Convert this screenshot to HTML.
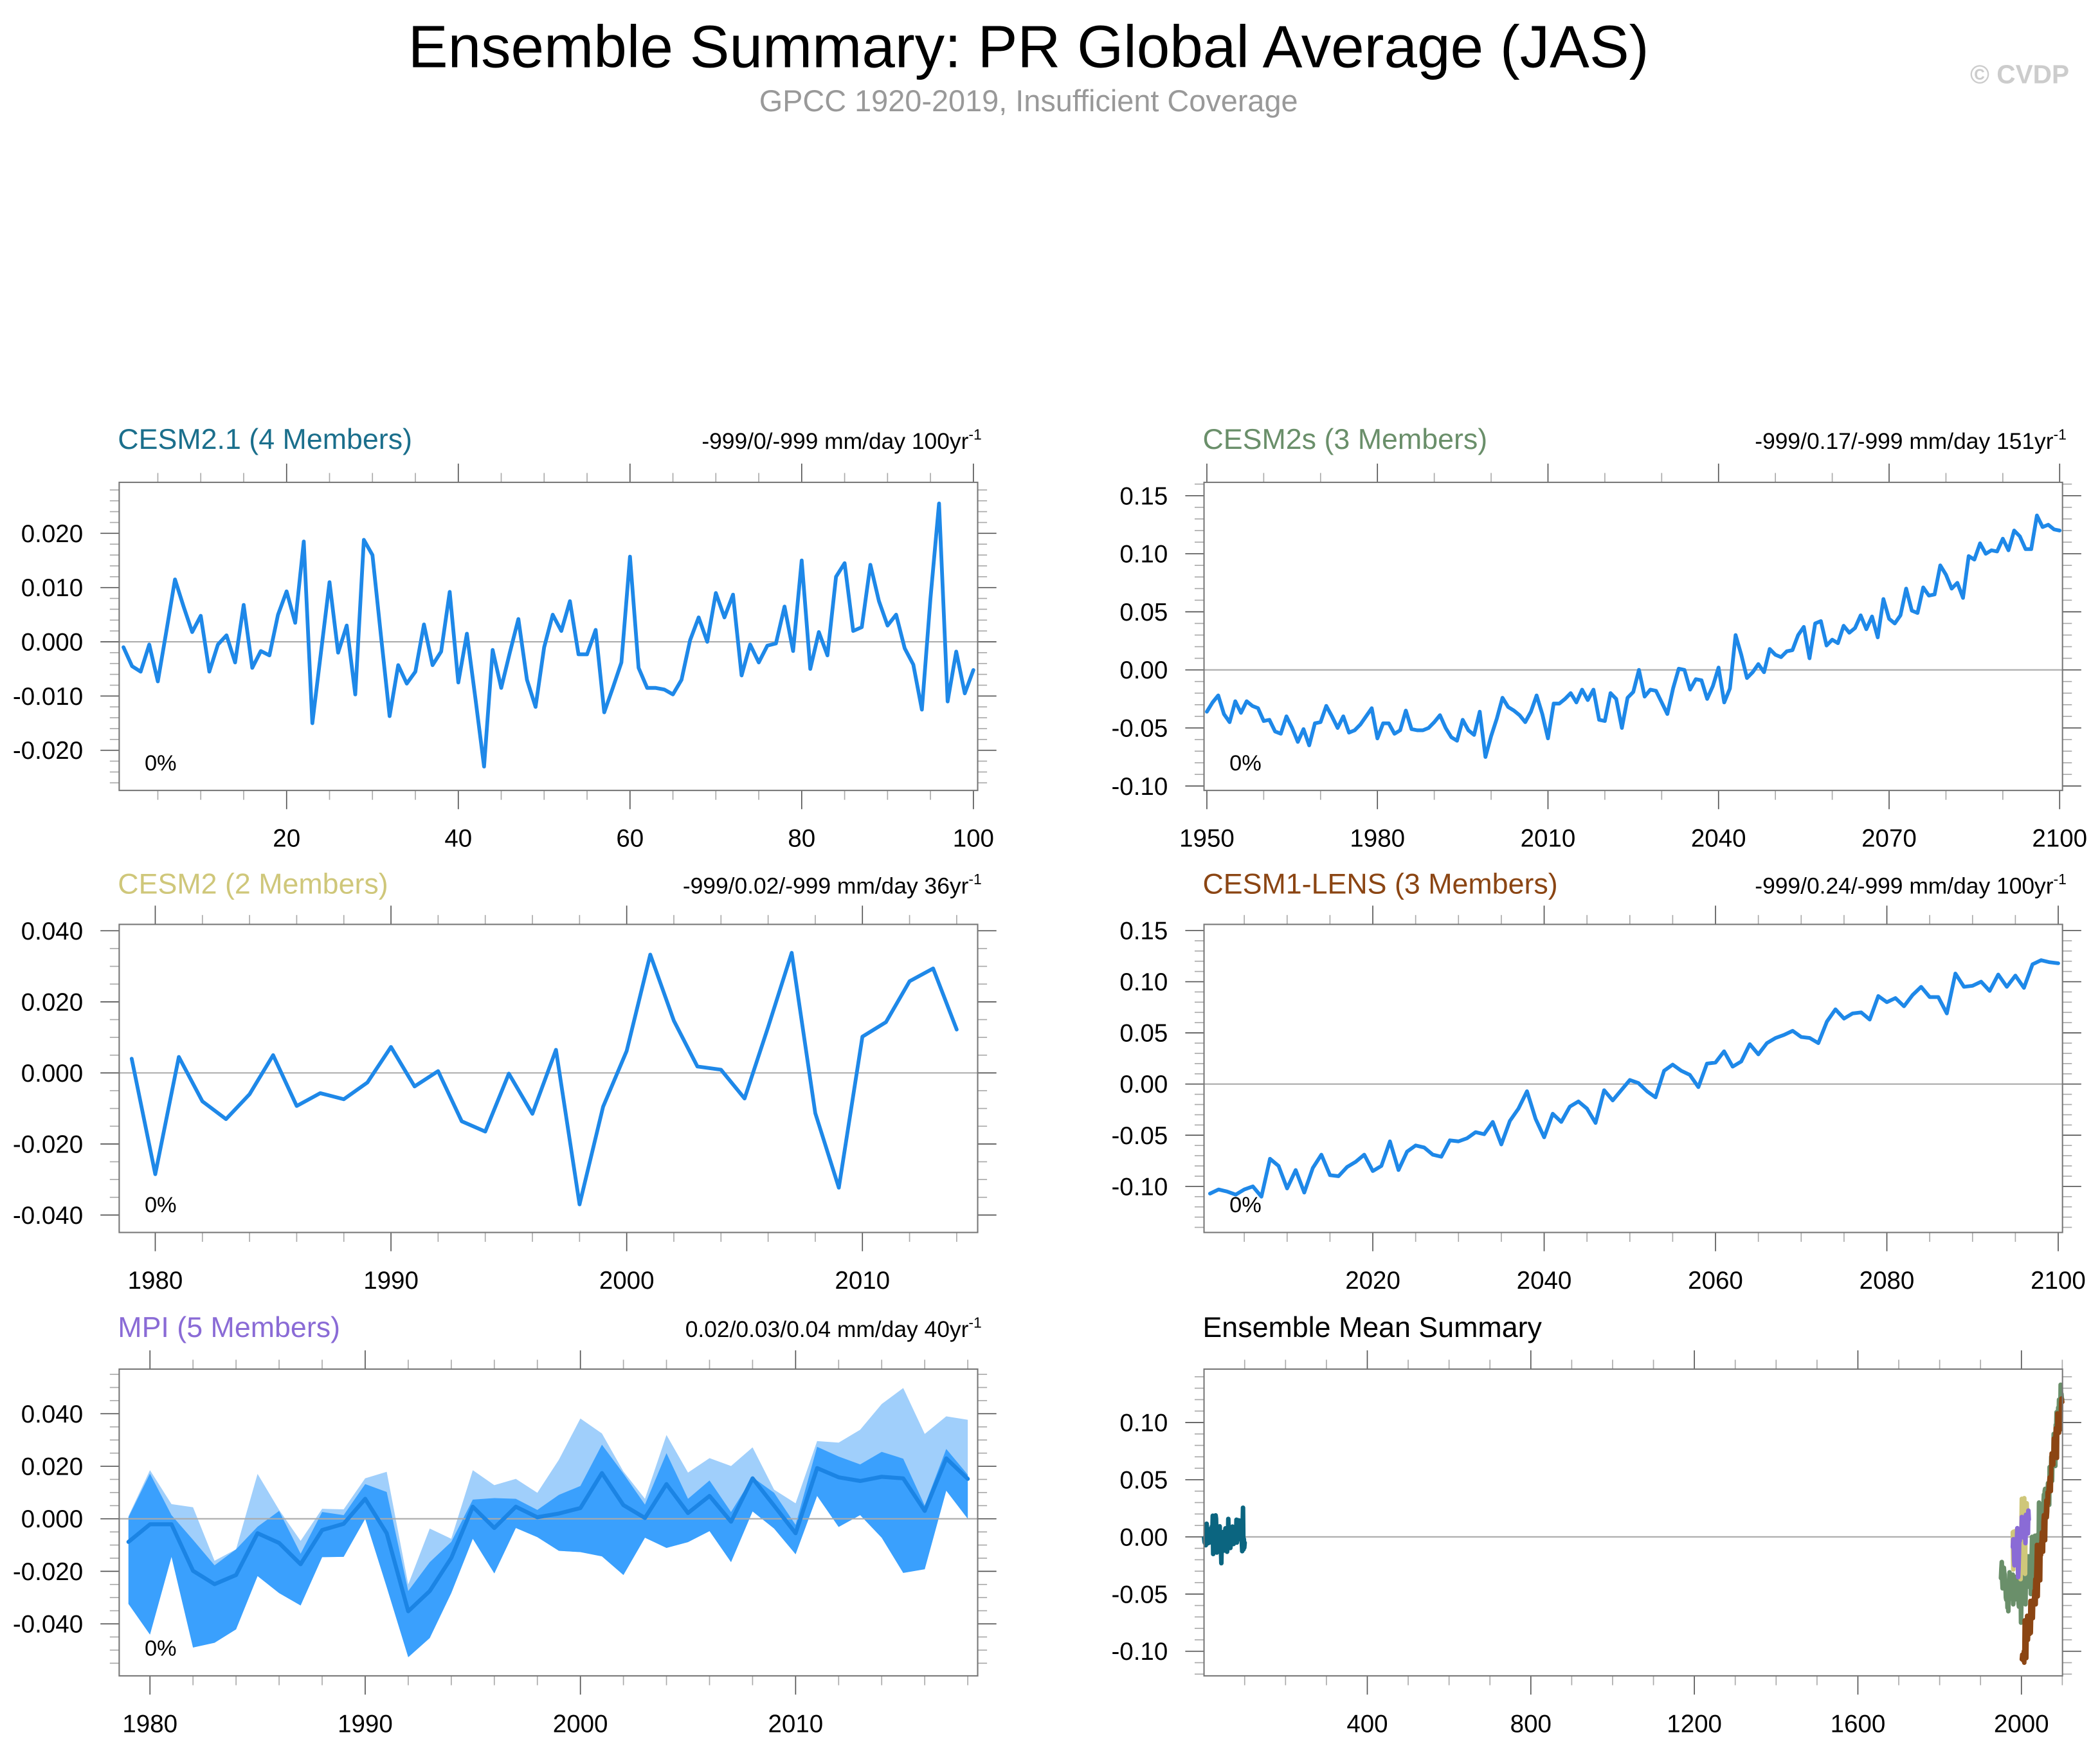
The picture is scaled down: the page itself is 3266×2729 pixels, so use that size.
<!DOCTYPE html>
<html>
<head>
<meta charset="utf-8">
<style>
  html, body { margin: 0; padding: 0; background: #ffffff; }
  svg { display: block; }
  text { font-family: "Liberation Sans", "DejaVu Sans", sans-serif; }
</style>
</head>
<body>
<svg id="chart" xmlns="http://www.w3.org/2000/svg" width="3266" height="2729" viewBox="0 0 1568 1310">
  <rect x="0" y="0" width="1568" height="1310" fill="#ffffff"/>
  <text x="768" y="50" font-size="44.5" text-anchor="middle" fill="#000">Ensemble Summary: PR Global Average (JAS)</text>
  <text x="768" y="83" font-size="22.5" text-anchor="middle" fill="#999">GPCC 1920-2019, Insufficient Coverage</text>
  <text x="1545" y="62" font-size="19.5" font-weight="bold" text-anchor="end" fill="#cccccc">© CVDP</text>

  <text x="88" y="335" font-size="21.5" fill="#1b6f8c">CESM2.1 (4 Members)</text>
  <text x="733" y="335" font-size="17" text-anchor="end" fill="#000">-999/0/-999 mm/day 100yr<tspan dy="-7" font-size="11">-1</tspan></text>
  <text x="898" y="335" font-size="21.5" fill="#6a8f6a">CESM2s (3 Members)</text>
  <text x="1543" y="335" font-size="17" text-anchor="end" fill="#000">-999/0.17/-999 mm/day 151yr<tspan dy="-7" font-size="11">-1</tspan></text>
  <text x="88" y="667" font-size="21.5" fill="#cfc77a">CESM2 (2 Members)</text>
  <text x="733" y="667" font-size="17" text-anchor="end" fill="#000">-999/0.02/-999 mm/day 36yr<tspan dy="-7" font-size="11">-1</tspan></text>
  <text x="898" y="667" font-size="21.5" fill="#8b4513">CESM1-LENS (3 Members)</text>
  <text x="1543" y="667" font-size="17" text-anchor="end" fill="#000">-999/0.24/-999 mm/day 100yr<tspan dy="-7" font-size="11">-1</tspan></text>
  <text x="88" y="998" font-size="21.5" fill="#8a6bd6">MPI (5 Members)</text>
  <text x="733" y="998" font-size="17" text-anchor="end" fill="#000">0.02/0.03/0.04 mm/day 40yr<tspan dy="-7" font-size="11">-1</tspan></text>
  <text x="898" y="998" font-size="21.5" fill="#000">Ensemble Mean Summary</text>
</svg>
<script>
// ---------------- DATA ----------------
const cesm21Start = 1;
const cesm21Values = [
-0.001,-0.0045,-0.0055,-0.0005,-0.0073,0.002,0.0115,0.0065,0.0018,0.0048,
-0.0055,-0.0005,0.0012,-0.0038,0.0068,-0.0048,-0.0017,-0.0025,0.005,0.0093,
0.0035,0.0185,-0.015,-0.002,0.011,-0.002,0.003,-0.0097,0.0188,0.016,
0.001,-0.0137,-0.0043,-0.0077,-0.0055,0.0032,-0.0043,-0.0018,0.0092,-0.0075,
0.0015,-0.0105,-0.023,-0.0015,-0.0085,-0.002,0.0042,-0.007,-0.012,-0.001,
0.005,0.002,0.0075,-0.0023,-0.0023,0.0022,-0.013,-0.0085,-0.0038,0.0157,
-0.0048,-0.0085,-0.0085,-0.0088,-0.0097,-0.007,0.0003,0.0045,0.0,0.009,
0.0045,0.0087,-0.0062,-0.0005,-0.0038,-0.0007,-0.0003,0.0065,-0.0017,0.015,
-0.005,0.0018,-0.0025,0.012,0.0145,0.002,0.0027,0.0142,0.0075,0.003,
0.005,-0.0012,-0.0042,-0.0125,0.008,0.0255,-0.011,-0.0018,-0.0095,-0.0052];

const cesm2sStart = 1950;
const cesm2sValues = [
-0.036,-0.028,-0.022,-0.038,-0.045,-0.027,-0.037,-0.027,-0.031,-0.033,
-0.044,-0.043,-0.053,-0.055,-0.040,-0.050,-0.062,-0.051,-0.065,-0.046,
-0.045,-0.031,-0.040,-0.050,-0.040,-0.054,-0.052,-0.047,-0.040,-0.033,
-0.059,-0.046,-0.046,-0.055,-0.052,-0.035,-0.051,-0.052,-0.052,-0.050,
-0.045,-0.039,-0.050,-0.058,-0.061,-0.043,-0.052,-0.056,-0.036,-0.075,
-0.057,-0.042,-0.024,-0.032,-0.035,-0.039,-0.045,-0.036,-0.022,-0.038,
-0.059,-0.029,-0.029,-0.025,-0.020,-0.028,-0.017,-0.026,-0.017,-0.043,
-0.044,-0.020,-0.025,-0.050,-0.024,-0.019,0.000,-0.023,-0.017,-0.018,
-0.028,-0.038,-0.016,0.001,0.000,-0.017,-0.008,-0.009,-0.025,-0.014,
0.002,-0.028,-0.016,0.030,0.013,-0.007,-0.002,0.005,-0.002,0.018,
0.013,0.011,0.016,0.017,0.030,0.037,0.010,0.040,0.042,0.021,
0.026,0.023,0.038,0.032,0.036,0.047,0.035,0.046,0.028,0.061,
0.044,0.040,0.047,0.070,0.051,0.049,0.071,0.064,0.065,0.090,
0.082,0.070,0.075,0.062,0.098,0.095,0.109,0.100,0.103,0.102,
0.113,0.103,0.120,0.115,0.104,0.104,0.133,0.123,0.125,0.121,
0.120];

const cesm2Start = 1979;
const cesm2Values = [
0.004,-0.0285,0.0045,-0.008,-0.013,-0.006,0.005,-0.0093,-0.0057,-0.0074,
-0.0027,0.0073,-0.0038,0.0005,-0.0136,-0.0165,-0.0002,-0.0115,0.0065,-0.037,
-0.0095,0.0062,0.0333,0.0147,0.0018,0.0009,-0.0072,0.0129,0.0338,-0.0113,
-0.0323,0.0102,0.0143,0.0258,0.0294,0.0122];

const lensStart = 2001;
const lensValues = [
-0.107,-0.103,-0.105,-0.108,-0.103,-0.100,-0.110,-0.073,-0.080,-0.102,
-0.084,-0.106,-0.082,-0.069,-0.089,-0.090,-0.081,-0.076,-0.069,-0.085,
-0.080,-0.056,-0.084,-0.066,-0.060,-0.062,-0.069,-0.071,-0.055,-0.056,
-0.053,-0.047,-0.049,-0.037,-0.059,-0.036,-0.024,-0.007,-0.034,-0.052,
-0.029,-0.037,-0.022,-0.017,-0.024,-0.038,-0.006,-0.016,-0.006,0.004,
0.001,-0.007,-0.013,0.013,0.019,0.013,0.009,-0.003,0.020,0.021,
0.032,0.017,0.022,0.039,0.029,0.040,0.045,0.048,0.052,0.046,
0.045,0.040,0.061,0.073,0.064,0.069,0.070,0.063,0.086,0.080,
0.084,0.076,0.087,0.095,0.085,0.085,0.069,0.108,0.095,0.096,
0.100,0.091,0.107,0.095,0.106,0.094,0.117,0.121,0.119,0.118];

const mpiStart = 1979;
const mpiMean = [
-0.0088,-0.0021,-0.0021,-0.0198,-0.0249,-0.0214,-0.0055,-0.0092,-0.0173,-0.0043,
-0.0019,0.0076,-0.0055,-0.0352,-0.0275,-0.0149,0.0046,-0.0035,0.0046,0.0006,
0.002,0.0041,0.0174,0.0052,0.0003,0.0132,0.0022,0.0087,-0.0011,0.0154,
0.005,-0.0055,0.0193,0.0158,0.0144,0.016,0.0154,0.003,0.023,0.0152];
const mpiMax = [
0.001,0.0185,0.0056,0.0044,-0.016,-0.0116,0.0171,0.0034,-0.0084,0.0038,
0.0036,0.0154,0.0179,-0.025,-0.0037,-0.0076,0.0185,0.0128,0.0152,0.0099,
0.0225,0.0382,0.0325,0.018,0.0076,0.0319,0.0176,0.0231,0.0201,0.0272,
0.0111,0.0059,0.0296,0.029,0.0339,0.0437,0.0498,0.0323,0.039,0.0377];
const mpiUpper = [
0.0006,0.0172,0.0014,-0.008,-0.0177,-0.0116,-0.003,0.003,-0.0133,0.0026,
0.0014,0.0132,0.0102,-0.0275,-0.0165,-0.0088,0.0073,0.0079,0.0076,0.0034,
0.0091,0.0125,0.0282,0.0172,0.0054,0.025,0.0076,0.0146,0.0026,0.0158,
0.0099,-0.0023,0.0274,0.0237,0.0207,0.0255,0.0229,0.005,0.0266,0.0168];
const mpiMin = [
-0.0324,-0.0441,-0.0145,-0.049,-0.0472,-0.0421,-0.0218,-0.0283,-0.033,-0.0146,
-0.0145,0.0,-0.026,-0.0527,-0.0454,-0.0283,-0.0076,-0.0208,-0.0035,-0.007,
-0.0122,-0.0127,-0.0143,-0.0214,-0.0072,-0.0111,-0.0089,-0.0047,-0.0165,0.0028,
-0.0037,-0.0135,0.0087,-0.0031,0.0014,-0.0072,-0.0206,-0.0192,0.0107,0.0];

// ---------------- DRAWING ----------------
const NS = 'http://www.w3.org/2000/svg';
const svg = document.getElementById('chart');

function el(parent, tag, attrs) {
  const e = document.createElementNS(NS, tag);
  for (const k in attrs) e.setAttribute(k, attrs[k]);
  parent.appendChild(e);
  return e;
}
function yearsOf(start, n) { const a = []; for (let i = 0; i < n; i++) a.push(start + i); return a; }

function makeScales(p) {
  const sx = v => p.x0 + (v - p.xd[0]) / (p.xd[1] - p.xd[0]) * (p.x1 - p.x0);
  const sy = v => p.y1 - (v - p.yd[0]) / (p.yd[1] - p.yd[0]) * (p.y1 - p.y0);
  return { sx, sy };
}

function drawAxes(p, name) {
  const g = el(svg, 'g', {});
  
  
  const { sx, sy } = makeScales(p);
  const MAJ = 14, MIN = 7;
  const xi0 = Math.ceil(p.xd[0] / p.xMin - 1e-9), xi1 = Math.floor(p.xd[1] / p.xMin + 1e-9);
  for (let i = xi0; i <= xi1; i++) {
    const v = i * p.xMin;
    const major = Math.abs(v / p.xMaj - Math.round(v / p.xMaj)) < 1e-6;
    const x = sx(v);
    const len = major ? MAJ : MIN;
    const col = major ? '#555' : '#aaa';
    const t1 = el(g, 'line', { x1: x, x2: x, y1: p.y0, y2: p.y0 - len, stroke: col, 'stroke-width': 0.8 });
    
    
    const t2 = el(g, 'line', { x1: x, x2: x, y1: p.y1, y2: p.y1 + len, stroke: col, 'stroke-width': 0.8 });
    
    
    if (major) {
      const lab = el(g, 'text', { x: x, y: p.y1 + 42, 'font-size': 18.5, 'text-anchor': 'middle', fill: '#000' });
      lab.textContent = String(Math.round(v));
      
      
    }
  }
  const yi0 = Math.ceil(p.yd[0] / p.yMin - 1e-9), yi1 = Math.floor(p.yd[1] / p.yMin + 1e-9);
  for (let i = yi0; i <= yi1; i++) {
    const v = i * p.yMin;
    const major = Math.abs(v / p.yMaj - Math.round(v / p.yMaj)) < 1e-6;
    const y = sy(v);
    const len = major ? MAJ : MIN;
    const col = major ? '#555' : '#aaa';
    const t1 = el(g, 'line', { x1: p.x0, x2: p.x0 - len, y1: y, y2: y, stroke: col, 'stroke-width': 0.8 });
    
    
    const t2 = el(g, 'line', { x1: p.x1, x2: p.x1 + len, y1: y, y2: y, stroke: col, 'stroke-width': 0.8 });
    
    
    if (major) {
      const lab = el(g, 'text', { x: p.x0 - 27, y: y + 6.5, 'font-size': 18.5, 'text-anchor': 'end', fill: '#000' });
      let s = v.toFixed(p.yDec);
      if (Math.abs(v) < 1e-12) s = (0).toFixed(p.yDec);
      lab.textContent = s;
      
      
    }
  }
  const z = el(g, 'line', { x1: p.x0, x2: p.x1, y1: sy(0), y2: sy(0), stroke: '#aaaaaa', 'stroke-width': 1 });
  
  
  return g;
}

function drawFrame(p, name) {
  const f = el(svg, 'rect', { x: p.x0, y: p.y0, width: p.x1 - p.x0, height: p.y1 - p.y0, fill: 'none', stroke: '#777', 'stroke-width': 1 });
  
  
}

function linePath(p, xs, ys) {
  const { sx, sy } = makeScales(p);
  return xs.map((x, i) => (i ? 'L' : 'M') + sx(x).toFixed(2) + ',' + sy(ys[i]).toFixed(2)).join(' ');
}

function drawLine(p, xs, ys, color, width, name) {
  const path = el(svg, 'path', { d: linePath(p, xs, ys), fill: 'none', stroke: color, 'stroke-width': width, 'stroke-linejoin': 'round', 'stroke-linecap': 'round' });
  
  
  return path;
}

function drawBand(p, xs, top, bot, color, name) {
  const { sx, sy } = makeScales(p);
  let d = xs.map((x, i) => (i ? 'L' : 'M') + sx(x).toFixed(2) + ',' + sy(top[i]).toFixed(2)).join(' ');
  for (let i = xs.length - 1; i >= 0; i--) d += ' L' + sx(xs[i]).toFixed(2) + ',' + sy(bot[i]).toFixed(2);
  d += ' Z';
  const b = el(svg, 'path', { d: d, fill: color, stroke: 'none' });
  
  
}

function pctLabel(p, name) {
  const t = el(svg, 'text', { x: p.x0 + 19, y: p.y1 - 15, 'font-size': 16.5, fill: '#000' });
  t.textContent = '0%';
  
  
}

const BLUE = '#1e88e8';

const P1 = { x0: 89, x1: 730, y0: 360, y1: 590, xd: [0.5, 100.5], yd: [-0.0274, 0.0294], xMaj: 20, xMin: 5, yMaj: 0.01, yMin: 0.002, yDec: 3 };
const P2 = { x0: 899, x1: 1540, y0: 360, y1: 590, xd: [1949.5, 2100.5], yd: [-0.1038, 0.1615], xMaj: 30, xMin: 10, yMaj: 0.05, yMin: 0.01, yDec: 2 };
const P3 = { x0: 89, x1: 730, y0: 690, y1: 920, xd: [1978.47, 2014.89], yd: [-0.0449, 0.0418], xMaj: 10, xMin: 2, yMaj: 0.02, yMin: 0.005, yDec: 3 };
const P4 = { x0: 899, x1: 1540, y0: 690, y1: 920, xd: [2000.3, 2100.5], yd: [-0.145, 0.156], xMaj: 20, xMin: 5, yMaj: 0.05, yMin: 0.01, yDec: 2 };
const P5 = { x0: 89, x1: 730, y0: 1022, y1: 1251, xd: [1978.57, 2018.46], yd: [-0.0598, 0.057], xMaj: 10, xMin: 2, yMaj: 0.02, yMin: 0.005, yDec: 3 };
const P6 = { x0: 899, x1: 1540, y0: 1022, y1: 1251, xd: [0.6, 2100.5], yd: [-0.1215, 0.1467], xMaj: 400, xMin: 100, yMaj: 0.05, yMin: 0.01, yDec: 2 };

drawAxes(P1, 'cesm21');
drawLine(P1, yearsOf(cesm21Start, cesm21Values.length), cesm21Values, BLUE, 2.8, 'cesm21-line');
drawFrame(P1, 'cesm21');
pctLabel(P1, 'cesm21');

drawAxes(P2, 'cesm2s');
drawLine(P2, yearsOf(cesm2sStart, cesm2sValues.length), cesm2sValues, BLUE, 2.8, 'cesm2s-line');
drawFrame(P2, 'cesm2s');
pctLabel(P2, 'cesm2s');

drawAxes(P3, 'cesm2');
drawLine(P3, yearsOf(cesm2Start, cesm2Values.length), cesm2Values, BLUE, 2.8, 'cesm2-line');
drawFrame(P3, 'cesm2');
pctLabel(P3, 'cesm2');

drawAxes(P4, 'cesm1-lens');
drawLine(P4, yearsOf(lensStart, lensValues.length), lensValues, BLUE, 2.8, 'cesm1-lens-line');
drawFrame(P4, 'cesm1-lens');
pctLabel(P4, 'cesm1-lens');

const mpiYears = yearsOf(mpiStart, mpiMean.length);
drawBand(P5, mpiYears, mpiMax, mpiMin, '#a0cffb', 'mpi-range-band');
drawBand(P5, mpiYears, mpiUpper, mpiMin, '#3aa0fd', 'mpi-spread-band');
drawAxes(P5, 'mpi');
drawLine(P5, mpiYears, mpiMean, '#1b84e4', 3, 'mpi-mean-line');
drawFrame(P5, 'mpi');
pctLabel(P5, 'mpi');

drawAxes(P6, 'ensemble-mean');
drawLine(P6, yearsOf(cesm21Start, cesm21Values.length), cesm21Values, '#0b6580', 3.4, 'ensemble-cesm21-line');
drawLine(P6, yearsOf(cesm2sStart, cesm2sValues.length), cesm2sValues, '#6a8f6a', 3.4, 'ensemble-cesm2s-line');
drawLine(P6, yearsOf(cesm2Start, cesm2Values.length), cesm2Values, '#cfc77a', 3.4, 'ensemble-cesm2-line');
drawLine(P6, yearsOf(mpiStart, mpiMean.length), mpiMean, '#8a6bd6', 3.4, 'ensemble-mpi-line');
drawLine(P6, yearsOf(lensStart, lensValues.length), lensValues, '#8b4513', 3.4, 'ensemble-cesm1-lens-line');
drawFrame(P6, 'ensemble-mean');
</script>
</body>
</html>
